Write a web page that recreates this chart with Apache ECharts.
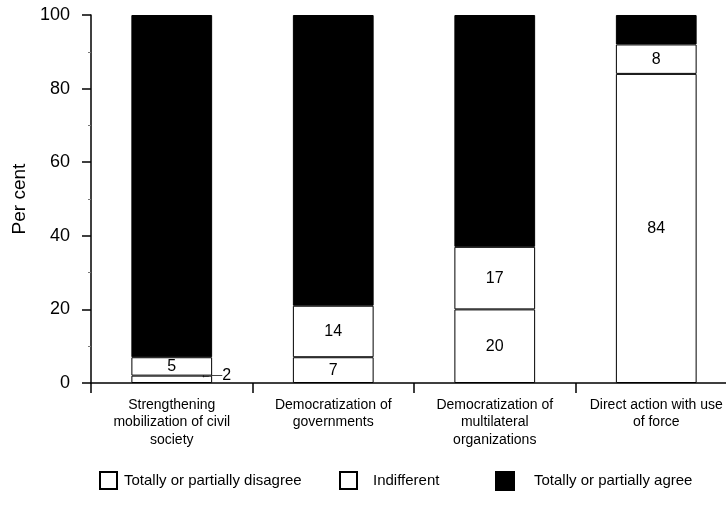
<!DOCTYPE html>
<html>
<head>
<meta charset="utf-8">
<script src="https://cdn.jsdelivr.net/npm/echarts@6/dist/echarts.min.js"></script>
<style>html,body{margin:0;padding:0;background:#fff}#c{width:726px;height:519px}</style>
</head>
<body>
<div id="c"></div>
<script>
const categories = [
  "Strengthening\nmobilization of civil\nsociety",
  "Democratization of\ngovernments",
  "Democratization of\nmultilateral\norganizations",
  "Direct action with use\nof force"
];
const disagree = [2, 7, 20, 84];
const indifferent = [5, 14, 17, 8];
const agree = [93, 79, 63, 8];
const yTicks = [0, 20, 40, 60, 80, 100];
const seriesNames = ["Totally or partially disagree", "Indifferent", "Totally or partially agree"];

const FONT = "'Liberation Sans', Arial, Helvetica, sans-serif";
const chart = echarts.init(document.getElementById('c'), null, {renderer: 'canvas'});
const borderStyle = {borderColor: '#000', borderWidth: 1};

const d0 = disagree.map((v, i) => i === 0 ? {
  value: v,
  label: {position: 'right', distance: -12, offset: [0, -4], formatter: '{a|←—}{b|' + v + '}',
          rich: {a: {fontSize: 11, color: '#000', fontFamily: FONT}, b: {fontSize: 16, color: '#000', fontFamily: FONT}}}
} : v);

chart.setOption({
  animation: false,
  textStyle: {fontFamily: FONT, color: '#000'},
  grid: {left: 91, top: 15, width: 646, height: 368, containLabel: false, outerBoundsMode: 'none'},
  xAxis: {
    type: 'category',
    data: categories,
    axisLine: {lineStyle: {color: '#000', width: 1.5}},
    axisTick: {show: true, length: 10, lineStyle: {color: '#000', width: 1.5}},
    axisLabel: {color: '#000', fontSize: 14, lineHeight: 17.5, margin: 13, interval: 0, fontFamily: FONT}
  },
  yAxis: {
    type: 'value',
    min: yTicks[0], max: yTicks[yTicks.length - 1], interval: 20,
    name: 'Per cent', nameLocation: 'middle', nameGap: 35, nameRotate: 90,
    nameTextStyle: {color: '#000', fontSize: 19, fontFamily: FONT},
    axisLine: {show: true, lineStyle: {color: '#000', width: 1.5}},
    axisTick: {show: true, length: 9, lineStyle: {color: '#000', width: 1.5}},
    minorTick: {show: true, splitNumber: 2, length: 3, lineStyle: {color: '#777'}},
    splitLine: {show: false},
    axisLabel: {color: '#000', fontSize: 18, margin: 21, fontFamily: FONT}
  },
  legend: [
    {data: [seriesNames[0]], left: 94, top: 466, icon: 'rect', itemWidth: 17, itemHeight: 17, itemGap: 0,
     textStyle: {fontSize: 15, color: '#000', fontFamily: FONT, padding: [0, 0, 0, 2]}},
    {data: [seriesNames[1]], left: 334, top: 466, icon: 'rect', itemWidth: 17, itemHeight: 17,
     textStyle: {fontSize: 15, color: '#000', fontFamily: FONT, padding: [0, 0, 0, 11]}},
    {data: [seriesNames[2]], left: 490, top: 466, icon: 'rect', itemWidth: 18, itemHeight: 18,
     textStyle: {fontSize: 15, color: '#000', fontFamily: FONT, padding: [0, 0, 0, 15]}}
  ],
  series: [
    {
      name: seriesNames[0], type: 'bar', stack: 's', barWidth: '50%',
      data: d0,
      itemStyle: Object.assign({color: '#fff'}, borderStyle),
      label: {show: true, color: '#000', fontSize: 16, fontFamily: FONT, position: 'inside'},
      emphasis: {disabled: true}
    },
    {
      name: seriesNames[1], type: 'bar', stack: 's',
      data: indifferent,
      itemStyle: Object.assign({color: '#fff'}, borderStyle),
      label: {show: true, color: '#000', fontSize: 16, fontFamily: FONT, position: 'inside'},
      emphasis: {disabled: true}
    },
    {
      name: seriesNames[2], type: 'bar', stack: 's',
      data: agree,
      itemStyle: Object.assign({color: '#000'}, borderStyle),
      label: {show: false},
      emphasis: {disabled: true}
    }
  ]
});
</script>
</body>
</html>
